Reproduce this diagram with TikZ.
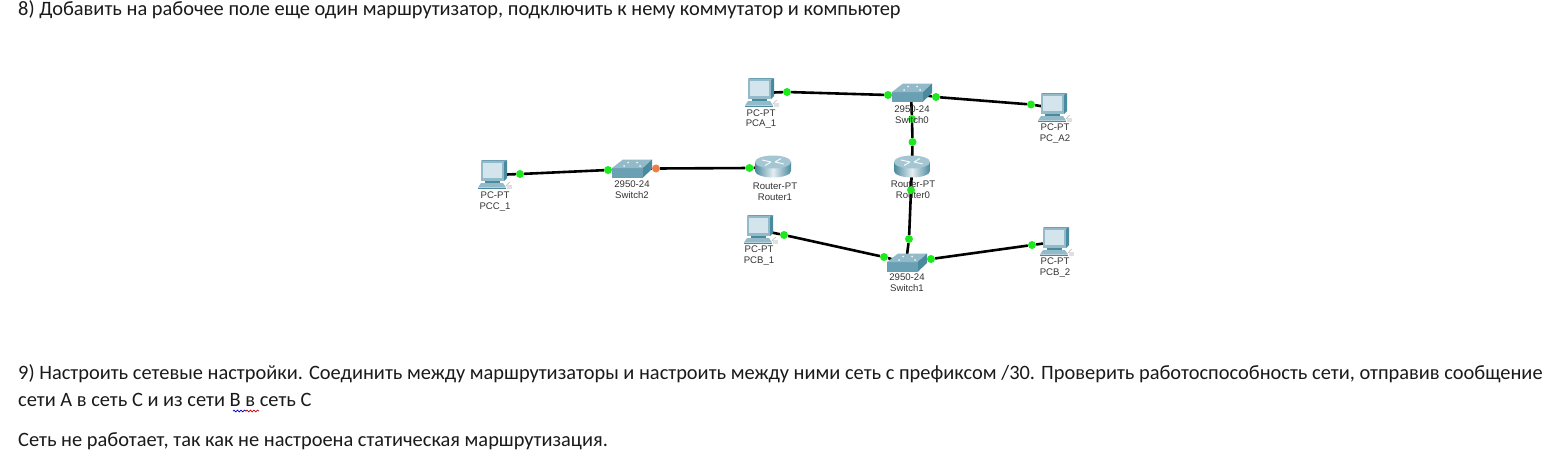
\documentclass[tikz,border=0pt]{standalone}
\usepackage{fontspec}
\setmainfont{Carlito}
\newfontfamily\labfont{Liberation Sans}
\usetikzlibrary{decorations.pathmorphing,backgrounds}
\definecolor{tealdark}{HTML}{4A8A9E}
\definecolor{tealmid}{HTML}{6AA0B3}
\definecolor{teallight}{HTML}{93BAC8}
\definecolor{toplight}{HTML}{A3C6D2}
\definecolor{screenc}{HTML}{D3E4EC}
\definecolor{linkgreen}{HTML}{1FE81F}
\definecolor{linkorange}{HTML}{EE7C46}
\definecolor{textc}{HTML}{1A1A1A}
\tikzset{
  x=1pt,y=-1pt,
  link/.style={line width=2.6pt,black},
  okdot/.style={circle,fill=linkgreen,minimum size=8pt,inner sep=0pt},
  warndot/.style={circle,fill=linkorange,minimum size=8pt,inner sep=0pt},
  devlabel/.style={font=\labfont\fontsize{9.6}{10.8}\selectfont,text=black!80,align=center,inner sep=0pt},
  para/.style={anchor=base west,inner sep=0pt,text=textc,font=\fontsize{20.4}{22}\selectfont},
  pcdev/.pic={
    % monitor top and side
    \fill[tealdark] (11,-13) -- (14,-15) -- (14,3) -- (11,6) -- cycle;
    \fill[tealmid] (-12,-14) -- (-11,-15) -- (14,-15) -- (11,-13) -- cycle;
    % monitor front
    \fill[teallight] (-12,-14) rectangle (11,6);
    \fill[screenc] (-10,-12) rectangle (9,3);
    % stand and keyboard
    \fill[tealdark] (-8,6) rectangle (7,8);
    \fill[teallight] (-12,8) -- (10,8) -- (13,12.5) -- (-15,12.5) -- cycle;
    \fill[tealdark] (-15,12.5) rectangle (13,14);
    \draw[black!25,line width=.6pt] (13,11) .. controls (15,8) and (16,8) .. (17,7);
    \fill[black!12] (14,10) rectangle (19,13.5);
  },
  swdev/.pic={
    \fill[tealmid] (-19,-1) rectangle (12,8.5);
    \fill[teallight] (-19,-1) -- (-8,-9.5) -- (21,-9.5) -- (12,-1) -- cycle;
    \fill[tealdark] (12,-1) -- (21,-9.5) -- (21,0) -- (12,8.5) -- cycle;
    \foreach \p in {(-7,-3),(-3,-6.5),(6,-6.5),(9,-3)} \fill[white!85!teallight] \p circle (1pt);
  },
  rtdev/.pic={
    \path[left color=tealdark,right color=tealdark,middle color=white!75!teallight]
      (-18,-5) -- (-18,4) arc[start angle=180,end angle=0,x radius=18,y radius=6.5]
      -- (18,-5) -- cycle;
    \fill[toplight] (0,-5) ellipse[x radius=18,y radius=6.5];
    \draw[white!90!teallight,line width=1pt] (-11,-7) -- (-2,-5) (11,-3) -- (2,-5) (-8,-1.5) -- (-2,-5) (8,-8.5) -- (2,-5);
  }
}
\begin{document}
\begin{tikzpicture}
\useasboundingbox (0,0) rectangle (1561,459);
% device anchors
\coordinate (pcc1) at (493,175);
\coordinate (sw2) at (631,169);
\coordinate (r1) at (773,167);
\coordinate (pca1) at (760,93);
\coordinate (sw0) at (911,93);
\coordinate (pca2) at (1053,108);
\coordinate (r0) at (912,167);
\coordinate (pcb1) at (759,230);
\coordinate (sw1) at (906,263);
\coordinate (pcb2) at (1055,242);
% devices
\pic at (pcc1) {pcdev};
\pic at (pca1) {pcdev};
\pic at (pca2) {pcdev};
\pic at (pcb1) {pcdev};
\pic at (pcb2) {pcdev};
\pic at (sw2) {swdev};
\pic at (sw0) {swdev};
\pic at (sw1) {swdev};
\pic at (r1) {rtdev};
\pic at (r0) {rtdev};
% link lights
\node[okdot] (d1) at (520,174) {};
\node[okdot] (d2) at (608,170) {};
\node[warndot] (d3) at (656,168.5) {};
\node[okdot] (d4) at (749.5,168) {};
\node[okdot] (d5) at (787,92) {};
\node[okdot] (d6) at (888,95) {};
\node[okdot] (d7) at (936,97) {};
\node[okdot] (d8) at (1031,104.5) {};
\node[okdot] (d9) at (912,119) {};
\node[okdot] (d10) at (912.5,142) {};
\node[okdot] (d11) at (911,190) {};
\node[okdot] (d12) at (909,239) {};
\node[okdot] (d13) at (784,235) {};
\node[okdot] (d14) at (884,257) {};
\node[okdot] (d15) at (931,259) {};
\node[okdot] (d16) at (1032,245) {};
% connectors, behind devices and lights
\begin{pgfonlayer}{background}
\fill[white] (0,0) rectangle (1561,459);
\draw[link] (pcc1) -- (d1) -- (d2) -- (sw2);
\draw[link] (sw2) -- (d3) -- (d4) -- (r1);
\draw[link] (pca1) -- (d5) -- (d6) -- (sw0);
\draw[link] (sw0) -- (d7) -- (d8) -- (pca2);
\draw[link] (sw0) -- (d9) -- (d10) -- (r0);
\draw[link] (r0) -- (d11) -- (d12) -- (sw1);
\draw[link] (pcb1) -- (d13) -- (d14) -- (sw1);
\draw[link] (sw1) -- (d15) -- (d16) -- (pcb2);
\end{pgfonlayer}
% device labels
\node[devlabel] (lpcc1) at (495,201.5) {PC-PT\\PCC\_1};
\node[devlabel] (lsw2) at (632,190) {2950-24\\Switch2};
\node[devlabel] (lr1) at (775,191.5) {Router-PT\\Router1};
\node[devlabel] (lpca1) at (761,119) {PC-PT\\PCA\_1};
\node[devlabel] (lsw0) at (912,115) {2950-24\\Switch0};
\node[devlabel] (lpca2) at (1055,133.5) {PC-PT\\PC\_A2};
\node[devlabel] (lr0) at (913,190) {Router-PT\\Router0};
\node[devlabel] (lpcb1) at (759,255.5) {PC-PT\\PCB\_1};
\node[devlabel] (lsw1) at (907,283) {2950-24\\Switch1};
\node[devlabel] (lpcb2) at (1055,267.5) {PC-PT\\PCB\_2};
% paragraphs
\node[para] (p8) at (18,15.5) {8) Добавить на рабочее поле еще один маршрутизатор, подключить к нему коммутатор и компьютер};
\node[para] (p9a) at (18,379.5) {9) Настроить сетевые настройки. Соединить между маршрутизаторы и настроить между ними сеть с префиксом /30. Проверить работоспособность сети, отправив сообщение};
\node[para] (p9b) at (18,406) {сети А в сеть С и из сети В в сеть С};
\node[para] (p10) at (18,446.5) {Сеть не работает, так как не настроена статическая маршрутизация.};
% spell-check underline
\coordinate (wa) at (233,411);
\coordinate (wm) at (246,411);
\coordinate (wb) at (259,411);
\draw[blue!80!black,line width=.7pt,decorate,decoration={snake,amplitude=.9pt,segment length=3.5pt}] (wa) -- (wm);
\draw[red!75!black,line width=.7pt,decorate,decoration={snake,amplitude=.9pt,segment length=3.5pt}] (wm) -- (wb);
\end{tikzpicture}
\end{document}
